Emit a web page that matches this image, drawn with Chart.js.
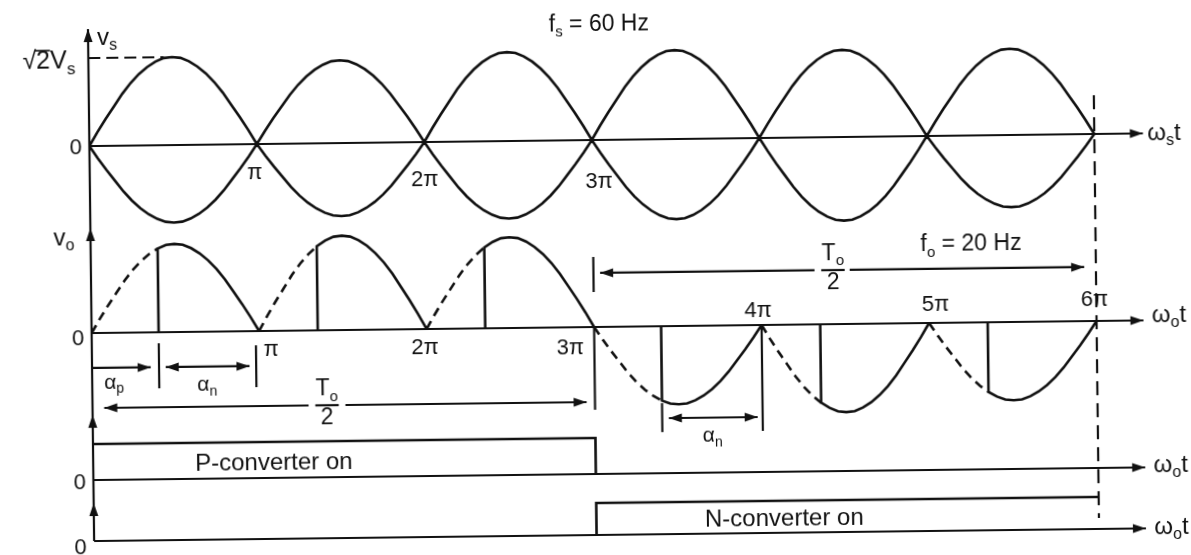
<!DOCTYPE html>
<html>
<head>
<meta charset="utf-8">
<script src="https://cdn.jsdelivr.net/npm/chart.js@4/dist/chart.umd.min.js"></script>
<style>
  html, body { margin: 0; padding: 0; background: #fff; overflow: hidden; }
  #wrap { width: 1191px; height: 555px; }
  /* the scanned figure sits slightly tilted */
  canvas { display: block; transform: rotate(-0.69deg); }
</style>
</head>
<body>
<div id="wrap"><canvas id="cyclo" width="1191" height="555"></canvas></div>
<script>
// one half-cycle of the supply: x in fractions of pi, y in fractions of its peak
const ARCH_X = [0, 0.05, 0.1, 0.15, 0.2, 0.25, 0.3, 0.35, 0.4, 0.45, 0.5,
                0.55, 0.6, 0.65, 0.7, 0.75, 0.8, 0.85, 0.9, 0.95, 1];
const ARCH_Y = [0, 0.16, 0.31, 0.45, 0.59, 0.71, 0.81, 0.89, 0.95, 0.99, 1,
                0.99, 0.95, 0.89, 0.81, 0.71, 0.59, 0.45, 0.31, 0.16, 0];

// supply voltage vs (and -vs), peak of each half-cycle, unit = sqrt(2)Vs
const VS_UPPER = [1.0, 0.94, 1.01, 1.01, 0.99, 0.98];
const VS_LOWER = [-0.88, -0.83, -0.88, -0.91, -0.95, -0.82];

// output voltage vo: peak of each half-cycle and index in ARCH_X where it is fired
const VO_PEAK = [0.99, 1.06, 1.02, -0.88, -0.99, -0.88];
const VO_FIRE = [8, 7, 7, 8, 7, 7];

// converter on/off states (x in multiples of pi)
const P_STATE_X = [0, 3, 3];
const P_STATE_Y = [1, 1, 0];
const N_STATE_X = [3, 3, 6];
const N_STATE_Y = [0, 1, 1];

const VS_TICK_LABELS = ['π', '2π', '3π'];
const VO_TICK_LABELS = ['π', '2π', '3π', '4π', '5π', '6π'];

const INK = '#111';
const FONT = '"Liberation Sans", Arial, Helvetica, sans-serif';

function archPoints(k, peak, from, to) {
  const pts = [];
  for (let i = from; i <= to; i++) pts.push({ x: k + ARCH_X[i], y: peak * ARCH_Y[i] });
  return pts;
}

const vsUpper = [], vsLower = [], voSolid = [], voDashed = [];
VS_UPPER.forEach((p, k) => vsUpper.push(...archPoints(k, p, 0, ARCH_X.length - 1)));
VS_LOWER.forEach((p, k) => vsLower.push(...archPoints(k, p, 0, ARCH_X.length - 1)));
VO_PEAK.forEach((p, k) => {
  const f = VO_FIRE[k];
  voDashed.push(...archPoints(k, p, 0, f), { x: k + ARCH_X[f], y: null });
  voSolid.push({ x: k + ARCH_X[f], y: 0 }, ...archPoints(k, p, f, ARCH_X.length - 1), { x: k + 1, y: null });
});
const pState = P_STATE_X.map((x, i) => ({ x, y: P_STATE_Y[i] }));
const nState = N_STATE_X.map((x, i) => ({ x, y: N_STATE_Y[i] }));

function line(data, yAxisID, dash) {
  return {
    data, yAxisID,
    showLine: true,
    pointRadius: 0,
    borderColor: INK,
    borderWidth: 2.6,
    borderDash: dash || [],
    tension: 0,
    spanGaps: false,
    fill: false
  };
}

function rich(ctx, segs, x, y, size, align) {
  const sub = Math.round(size * 0.66);
  let w = 0;
  segs.forEach(s => {
    ctx.font = (s[1] ? sub : size) + 'px ' + FONT;
    w += ctx.measureText(s[0]).width;
  });
  let cx = align === 'left' ? x : align === 'right' ? x - w : x - w / 2;
  ctx.textAlign = 'left';
  ctx.textBaseline = 'middle';
  segs.forEach(s => {
    ctx.font = (s[1] ? sub : size) + 'px ' + FONT;
    ctx.fillText(s[0], cx, s[1] ? y + size * 0.32 : y);
    cx += ctx.measureText(s[0]).width;
  });
  return w;
}

function head(ctx, x, y, dir) {
  const L = 13, H = 4.5;
  const a = { up: -Math.PI / 2, right: 0, left: Math.PI }[dir];
  const c = Math.cos(a), s = Math.sin(a);
  ctx.beginPath();
  ctx.moveTo(x, y);
  ctx.lineTo(x - L * c - H * s, y - L * s + H * c);
  ctx.lineTo(x - L * c + H * s, y - L * s - H * c);
  ctx.closePath();
  ctx.fill();
}

function seg(ctx, x1, y1, x2, y2, dash) {
  ctx.setLineDash(dash || []);
  ctx.beginPath();
  ctx.moveTo(x1, y1);
  ctx.lineTo(x2, y2);
  ctx.stroke();
  ctx.setLineDash([]);
}

const diagram = {
  id: 'diagram',
  afterDatasetsDraw(chart) {
    const ctx = chart.ctx;
    const X = v => chart.scales.x.getPixelForValue(v);
    const Y = (id, v) => chart.scales[id].getPixelForValue(v);
    ctx.save();
    ctx.strokeStyle = INK;
    ctx.fillStyle = INK;
    ctx.lineWidth = 2.2;

    // common vertical axis with an arrow for each trace
    const ax = X(0);
    seg(ctx, ax, Y('ys', 1.33), ax, Y('yn', 0));
    head(ctx, ax, Y('ys', 1.33), 'up');
    head(ctx, ax, Y('yo', 1.18), 'up');
    head(ctx, ax, Y('yp', 1.81), 'up');
    head(ctx, ax, Y('yn', 1.19), 'up');

    // time axes
    [['ys', 6.29], ['yo', 6.28], ['yp', 6.28], ['yn', 6.28]].forEach(([id, tip]) => {
      seg(ctx, ax, Y(id, 0), X(tip), Y(id, 0));
      head(ctx, X(tip), Y(id, 0), 'right');
    });

    // peak marker and end of the output period
    seg(ctx, ax, Y('ys', VS_UPPER[0]), X(0.45), Y('ys', VS_UPPER[0]), [12, 6]);
    seg(ctx, X(6), Y('ys', 0.44), X(6), Y('yn', 0.34), [14, 8]);

    // T0/2 over the N-converter half
    let y = Y('yo', 0.607);
    seg(ctx, X(3), Y('yo', 0.787), X(3), Y('yo', 0.393));
    seg(ctx, X(3.04), y, X(4.32), y);
    seg(ctx, X(4.36), y, X(4.50), y);
    seg(ctx, X(4.53), y, X(5.93), y);
    head(ctx, X(3.04), y, 'left');
    head(ctx, X(5.93), y, 'right');
    rich(ctx, [['T'], ['o', 1]], X(4.43), y - 16, 23, 'center');
    rich(ctx, [['2']], X(4.43), y + 13, 23, 'center');

    // T0/2 over the P-converter half
    y = Y('yo', -0.843);
    seg(ctx, X(3), Y('yo', 0), X(3), Y('yo', -0.93));
    seg(ctx, X(0.07), y, X(1.29), y);
    seg(ctx, X(1.33), y, X(1.47), y);
    seg(ctx, X(1.51), y, X(2.95), y);
    head(ctx, X(0.07), y, 'left');
    head(ctx, X(2.95), y, 'right');
    rich(ctx, [['T'], ['o', 1]], X(1.40), y - 16, 23, 'center');
    rich(ctx, [['2']], X(1.40), y + 13, 23, 'center');

    // firing angle markers
    y = Y('yo', -0.393);
    seg(ctx, ax, y, X(0.35), y);
    head(ctx, X(0.35), y, 'right');
    seg(ctx, X(0.40), Y('yo', -0.124), X(0.40), Y('yo', -0.63));
    seg(ctx, X(0.44), y, X(0.94), y);
    head(ctx, X(0.44), y, 'left');
    head(ctx, X(0.94), y, 'right');
    seg(ctx, X(0.98), Y('yo', -0.16), X(0.98), Y('yo', -0.63));
    rich(ctx, [['α'], ['p', 1]], X(0.131), Y('yo', -0.56), 21, 'center');
    rich(ctx, [['α'], ['n', 1]], X(0.687), Y('yo', -0.60), 21, 'center');

    y = Y('yo', -1.034);
    seg(ctx, X(3.40), Y('yo', -0.865), X(3.40), Y('yo', -1.19));
    seg(ctx, X(4), Y('yo', 0), X(4), Y('yo', -1.19));
    seg(ctx, X(3.44), y, X(3.97), y);
    head(ctx, X(3.44), y, 'left');
    head(ctx, X(3.97), y, 'right');
    rich(ctx, [['α'], ['n', 1]], X(3.70), Y('yo', -1.236), 21, 'center');

    // supply panel labels
    rich(ctx, [['f'], ['s', 1], [' = 60 Hz']], X(3.05), Y('ys', 1.307), 23, 'center');
    rich(ctx, [['v'], ['s', 1]], X(0.054), Y('ys', 1.227), 24, 'left');
    const w = rich(ctx, [['√2V'], ['s', 1]], X(-0.078), Y('ys', 0.966), 25, 'right');
    ctx.font = '25px ' + FONT;
    const rootW = ctx.measureText('√').width, twoW = ctx.measureText('2').width;
    const x0 = X(-0.078) - w + rootW - 1;
    ctx.lineWidth = 1.6;
    seg(ctx, x0, Y('ys', 0.966) - 11, x0 + twoW + 1, Y('ys', 0.966) - 11);
    ctx.lineWidth = 2.2;
    rich(ctx, [['0']], X(-0.045), Y('ys', -0.02), 22, 'right');
    rich(ctx, [['ω'], ['s', 1], ['t']], X(6.316), Y('ys', 0), 24, 'left');
    [[0.985, -0.33], [2.0, -0.43], [3.04, -0.48]].forEach(([px, py], i) =>
      rich(ctx, [[VS_TICK_LABELS[i]]], X(px), Y('ys', py), 22, 'center'));

    // output panel labels
    rich(ctx, [['v'], ['o', 1]], X(-0.096), Y('yo', 1.067), 24, 'right');
    rich(ctx, [['0']], X(-0.045), Y('yo', -0.07), 22, 'right');
    rich(ctx, [['ω'], ['o', 1], ['t']], X(6.33), Y('yo', 0.056), 24, 'left');
    rich(ctx, [['f'], ['o', 1], [' = 20 Hz']], X(5.256), Y('yo', 0.876), 23, 'center');
    [[1.07, -0.21], [1.99, -0.21], [2.857, -0.24], [3.98, 0.16], [5.04, 0.20], [5.99, 0.24]]
      .forEach(([px, py], i) => rich(ctx, [[VO_TICK_LABELS[i]]], X(px), Y('yo', py), 22, 'center'));

    // converter state labels
    rich(ctx, [['0']], X(-0.045), Y('yp', -0.08), 22, 'right');
    rich(ctx, [['P-converter on']], X(0.609), Y('yp', 0.417), 24, 'left');
    rich(ctx, [['ω'], ['o', 1], ['t']], X(6.33), Y('yp', 0.056), 24, 'left');
    rich(ctx, [['0']], X(-0.045), Y('yn', -0.22), 22, 'right');
    rich(ctx, [['N-converter on']], X(3.648), Y('yn', 0.4375), 24, 'left');
    rich(ctx, [['ω'], ['o', 1], ['t']], X(6.33), Y('yn', 0.03), 24, 'left');

    ctx.restore();
  }
};

new Chart(document.getElementById('cyclo'), {
  type: 'scatter',
  data: {
    datasets: [
      line(vsUpper, 'ys'),
      line(vsLower, 'ys'),
      line(voSolid, 'yo'),
      line(voDashed, 'yo', [9, 6]),
      line(pState, 'yp'),
      line(nState, 'yn')
    ]
  },
  options: {
    responsive: false,
    animation: false,
    devicePixelRatio: 1,
    layout: { padding: 0 },
    plugins: { legend: { display: false }, tooltip: { enabled: false } },
    scales: {
      x: { type: 'linear', min: -0.5433, max: 6.5672, display: false },
      ys: { type: 'linear', position: 'left', min: -4.716, max: 1.591, display: false },
      yo: { type: 'linear', position: 'left', min: -2.562, max: 3.674, display: false },
      yp: { type: 'linear', position: 'left', min: -2.25, max: 13.167, display: false },
      yn: { type: 'linear', position: 'left', min: -0.625, max: 16.719, display: false }
    }
  },
  plugins: [diagram]
});
</script>
</body>
</html>
